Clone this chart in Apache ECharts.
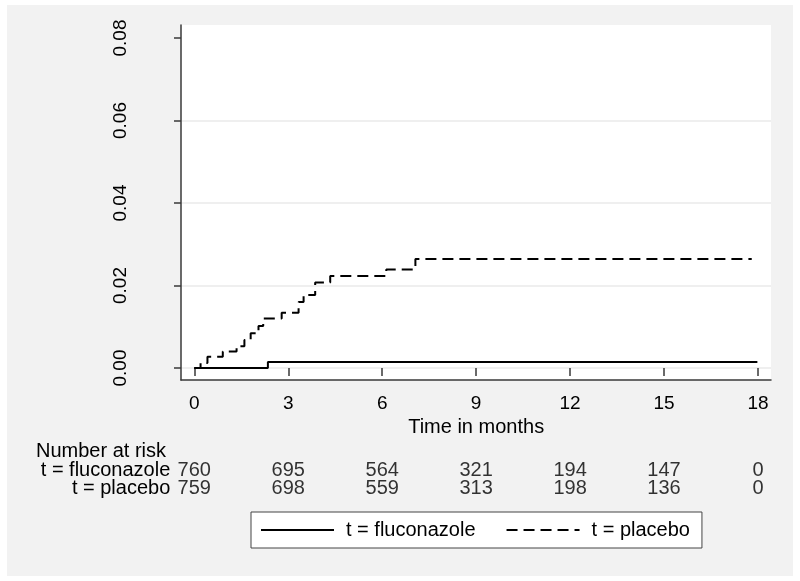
<!DOCTYPE html>
<html>
<head>
<meta charset="utf-8">
<script src="https://cdn.jsdelivr.net/npm/echarts@6/dist/echarts.min.js"></script>
<style>
html,body{margin:0;padding:0;background:#fff;}
#wrap{position:relative;width:800px;height:581px;background:#fff;}
#bg{position:absolute;left:7px;top:5px;width:786px;height:571px;background:#f2f2f2;}
#chart{position:absolute;left:0;top:0;width:800px;height:581px;}
</style>
</head>
<body>
<div id="wrap"><div id="bg"></div><div id="chart"></div></div>
<script>
// ---- data ----
const seriesNames = ['t = fluconazole', 't = placebo'];
// Kaplan-Meier style cumulative incidence steps: [time in months, value]
const flucoTime  = [0, 2.35, 17.98];
const flucoValue = [0, 0.00145, 0.00145];
const placeboTime  = [0, 0.2, 0.42, 0.91, 1.35, 1.6, 1.8, 2.05, 2.2, 2.79, 3.33, 3.49, 3.86, 4.34, 6.13, 7.06, 17.8];
const placeboValue = [0, 0.0012, 0.0027, 0.0040, 0.0053, 0.0068, 0.0084, 0.0102, 0.0120, 0.0134, 0.0160, 0.0177, 0.0207, 0.0223, 0.0239, 0.0264, 0.0264];
const xTicks = [0, 3, 6, 9, 12, 15, 18];
const yTicks = [0, 0.02, 0.04, 0.06, 0.08];
const riskRows = ['t = fluconazole', 't = placebo'];
const riskFluco   = [760, 695, 564, 321, 194, 147, 0];
const riskPlacebo = [759, 698, 559, 313, 198, 136, 0];

// ---- build ----
const FONT = 'Liberation Sans, Arial, sans-serif';
const AX = '#3a3a3a';
const zip = (a, b) => a.map((v, i) => [v, b[i]]);
const riskData = [];
xTicks.forEach((t, i) => {
  riskData.push([t, riskRows[0], riskFluco[i]]);
  riskData.push([t, riskRows[1], riskPlacebo[i]]);
});

const chart = echarts.init(document.getElementById('chart'), null, {renderer: 'canvas'});
const option = {
  animation: false,
  textStyle: {fontFamily: FONT, color: '#000'},
  title: {
    text: 'Number at risk', left: 36, top: 441, padding: 0,
    textStyle: {fontFamily: FONT, fontSize: 20, fontWeight: 'normal', color: '#000'}
  },
  legend: {
    data: seriesNames,
    left: 251, top: 512,
    orient: 'horizontal',
    backgroundColor: '#fff',
    borderColor: '#444', borderWidth: 1, borderRadius: 0,
    padding: [8, 12, 8, 9],
    itemWidth: 73, itemHeight: 14, itemGap: 30,
    itemStyle: {opacity: 0},
    lineStyle: {opacity: 1},
    textStyle: {fontFamily: FONT, fontSize: 20, color: '#000', padding: [0, 0, 0, 7]}
  },
  grid: [
    {left: 181, top: 25, width: 590, height: 355, show: true, backgroundColor: '#fff', borderWidth: 0},
    {left: 181, top: 38, width: 590, height: 330},
    {left: 194.3, top: 38, width: 563.7, height: 330},
    {left: 194.3, top: 461, width: 563.7, height: 36}
  ],
  xAxis: [
    {gridIndex: 0, type: 'value', min: 0, max: 1, axisLine: {show: true, onZero: false, lineStyle: {color: AX, width: 1.5}},
     axisTick: {show: false}, axisLabel: {show: false}, splitLine: {show: false}},
    {gridIndex: 1, type: 'value', min: 0, max: 1, show: false},
    {gridIndex: 2, type: 'value', min: xTicks[0], max: xTicks[xTicks.length - 1], interval: 3, offset: 12,
     axisLine: {show: false}, axisTick: {show: true, length: 8, lineStyle: {color: AX, width: 1.5}},
     axisLabel: {fontFamily: FONT, fontSize: 19, color: '#000', margin: 14},
     splitLine: {show: false},
     name: 'Time in months', nameLocation: 'middle', nameGap: 33,
     nameTextStyle: {fontFamily: FONT, fontSize: 20, color: '#000'}},
    {gridIndex: 3, type: 'value', min: xTicks[0], max: xTicks[xTicks.length - 1], show: false}
  ],
  yAxis: [
    {gridIndex: 0, type: 'value', min: 0, max: 1, axisLine: {show: true, onZero: false, lineStyle: {color: AX, width: 1.5}},
     axisTick: {show: false}, axisLabel: {show: false}, splitLine: {show: false}},
    {gridIndex: 1, type: 'value', min: yTicks[0], max: yTicks[yTicks.length - 1], interval: 0.02,
     axisLine: {show: false}, axisTick: {show: true, length: 7, lineStyle: {color: AX, width: 1.5}},
     axisLabel: {fontFamily: FONT, fontSize: 19, color: '#000', rotate: 90, margin: 51,
                 formatter: v => v.toFixed(2)},
     splitLine: {show: true, showMaxLine: false, lineStyle: {color: '#eaeaea', width: 1.5}}},
    {gridIndex: 2, type: 'value', min: yTicks[0], max: yTicks[yTicks.length - 1], show: false},
    {gridIndex: 3, type: 'category', data: riskRows, inverse: true,
     axisLine: {show: false}, axisTick: {show: false}, splitLine: {show: false},
     axisLabel: {fontFamily: FONT, fontSize: 20, color: '#000', margin: 24, interval: 0}}
  ],
  series: [
    {name: seriesNames[0], type: 'line', xAxisIndex: 2, yAxisIndex: 2, step: 'end',
     symbol: 'none', showSymbol: false, data: zip(flucoTime, flucoValue),
     lineStyle: {color: '#000', width: 2, type: 'solid'}, itemStyle: {color: '#000'},
     emphasis: {disabled: true}, z: 5},
    {name: seriesNames[1], type: 'line', xAxisIndex: 2, yAxisIndex: 2, step: 'end',
     symbol: 'none', showSymbol: false, data: zip(placeboTime, placeboValue),
     lineStyle: {color: '#000', width: 2, type: [11, 6]}, itemStyle: {color: '#000'},
     emphasis: {disabled: true}, z: 5},
    {name: 'risk', type: 'scatter', xAxisIndex: 3, yAxisIndex: 3, data: riskData,
     symbolSize: 1, itemStyle: {color: 'rgba(0,0,0,0)'}, silent: true,
     label: {show: true, position: 'inside', fontFamily: FONT, fontSize: 20, color: '#000',
             formatter: p => String(p.value[2])}}
  ]
};
chart.setOption(option);
</script>
</body>
</html>
